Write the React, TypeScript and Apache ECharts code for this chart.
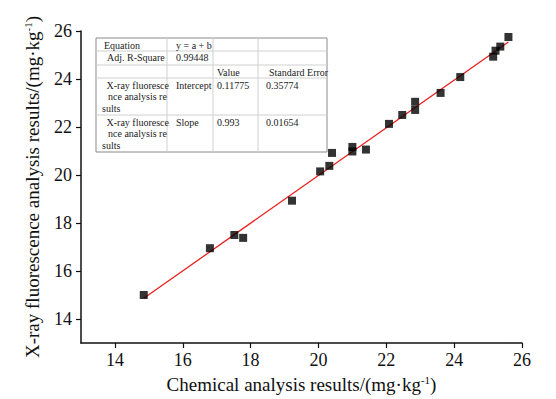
import React, { useEffect, useRef } from "react";
import * as echarts from "echarts";

const chemX = [14.85, 16.8, 17.52, 17.78, 19.22, 20.05, 20.32, 20.4, 21.0, 21.0, 21.4, 22.08, 22.47, 22.85, 22.85, 23.6, 24.18, 25.15, 25.22, 25.36, 25.6];
const xrfY = [15.0, 16.95, 17.5, 17.38, 18.93, 20.15, 20.38, 20.92, 21.17, 20.98, 21.06, 22.13, 22.5, 22.71, 23.05, 23.42, 24.08, 24.93, 25.18, 25.35, 25.75];
const tickValues = [14, 16, 18, 20, 22, 24, 26];
const intercept = 0.11775;
const slope = 0.993;
const tableRows = [
  ["Equation", "y = a + b", "", ""],
  ["Adj. R-Square", "0.99448", "", ""],
  ["", "", "Value", "Standard Error"],
  ["X-ray fluoresce\n nce analysis re\nsults", "Intercept", "0.11775", "0.35774"],
  ["X-ray fluoresce\n nce analysis re\nsults", "Slope", "0.993", "0.01654"],
];

const FONT = "'Liberation Serif', 'Times New Roman', serif";

export default function App() {
  const ref = useRef<HTMLDivElement>(null);
  useEffect(() => {
    if (!ref.current) return;
    const chart = echarts.init(ref.current, null, { renderer: "svg" });
    const pts = chemX.map((x, i) => [x, xrfY[i]]);
    const xMin = Math.min(...chemX);
    const xMax = Math.max(...chemX);
    const fit = [
      [xMin, intercept + slope * xMin],
      [xMax, intercept + slope * xMax],
    ];

    // table geometry
    const L = 96, T = 38, R = 327, B = 152;
    const colX = [L, 167, 213, 258, R];
    const rowY = [T, 51, 65, 78, 115, B];
    const gridColor = "#d0d0d0";
    const els: any[] = [];
    els.push({ type: "rect", shape: { x: L, y: T, width: R - L, height: B - T }, style: { fill: "#fff", stroke: "#8a8a8a", lineWidth: 1 }, z: 100 });
    for (let i = 1; i < rowY.length - 1; i++) {
      els.push({ type: "line", shape: { x1: L, y1: rowY[i], x2: R, y2: rowY[i] }, style: { stroke: gridColor, lineWidth: 1 }, z: 101 });
    }
    for (let j = 1; j < colX.length - 1; j++) {
      els.push({ type: "line", shape: { x1: colX[j], y1: T, x2: colX[j], y2: B }, style: { stroke: gridColor, lineWidth: 1 }, z: 101 });
    }
    const textX = [[104, 176, 217, 266], [107, 176, 217, 266], [104, 176, 217, 269], [102, 176, 217, 266], [102, 176, 217, 266]];
    const textY = [45, 57, 72, 85, 122];
    tableRows.forEach((row, r) => {
      row.forEach((cell, c) => {
        if (!cell) return;
        if (c === 0 && cell.includes("\n")) {
          const lines = cell.split("\n");
          const offs = [4.5, 6, 0];
          lines.forEach((ln, k) => {
            els.push({ type: "text", x: 102 + offs[k], y: textY[r] + k * 11.7, style: { text: ln.trim(), font: `10px ${FONT}`, fill: "#222", verticalAlign: "middle" }, z: 102 });
          });
        } else {
          els.push({ type: "text", x: textX[r][c], y: textY[r], style: { text: cell, font: `10px ${FONT}`, fill: "#222", verticalAlign: "middle" }, z: 102 });
        }
      });
    });

    const nameRich = {
      a: { fontFamily: FONT, fontSize: 19, color: "#111", lineHeight: 20 },
      s: { fontFamily: FONT, fontSize: 11, color: "#111", verticalAlign: "top", lineHeight: 20 },
    };

    chart.setOption({
      animation: false,
      backgroundColor: "#fff",
      grid: { left: 81, right: 34, top: 31, bottom: 56 },
      xAxis: {
        type: "value", min: 13, max: 26,
        name: "{a|Chemical analysis results/(mg·kg}{s|-1}{a|)}",
        nameLocation: "middle", nameGap: 31,
        nameTextStyle: { rich: nameRich },
        axisLine: { show: true, onZero: false, lineStyle: { color: "#111", width: 1.5 } },
        axisTick: { show: true, inside: false, length: 5, customValues: tickValues, lineStyle: { color: "#111", width: 1.2 } },
        axisLabel: { customValues: tickValues, fontFamily: FONT, fontSize: 18, color: "#111", margin: 8 },
        splitLine: { show: false },
      },
      yAxis: {
        type: "value", min: 13, max: 26,
        name: "{a|X-ray fluorescence analysis results/(mg·kg}{s|-1}{a|)}",
        nameLocation: "middle", nameGap: 39,
        nameTextStyle: { rich: nameRich },
        axisLine: { show: true, onZero: false, lineStyle: { color: "#111", width: 1.5 } },
        axisTick: { show: true, inside: false, length: 5, customValues: tickValues, lineStyle: { color: "#111", width: 1.2 } },
        axisLabel: { customValues: tickValues, fontFamily: FONT, fontSize: 18, color: "#111", margin: 9 },
        splitLine: { show: false },
      },
      series: [
        { type: "line", data: fit, symbol: "none", lineStyle: { color: "#e8201e", width: 1.3 }, z: 2 },
        { type: "scatter", data: pts, symbol: "rect", symbolSize: 8, itemStyle: { color: "#000" }, z: 3 },
      ],
      graphic: { elements: els },
    });
    return () => chart.dispose();
  }, []);
  return <div ref={ref} style={{ position: "absolute", left: 0, top: 0, width: 556, height: 399 }} />;
}
